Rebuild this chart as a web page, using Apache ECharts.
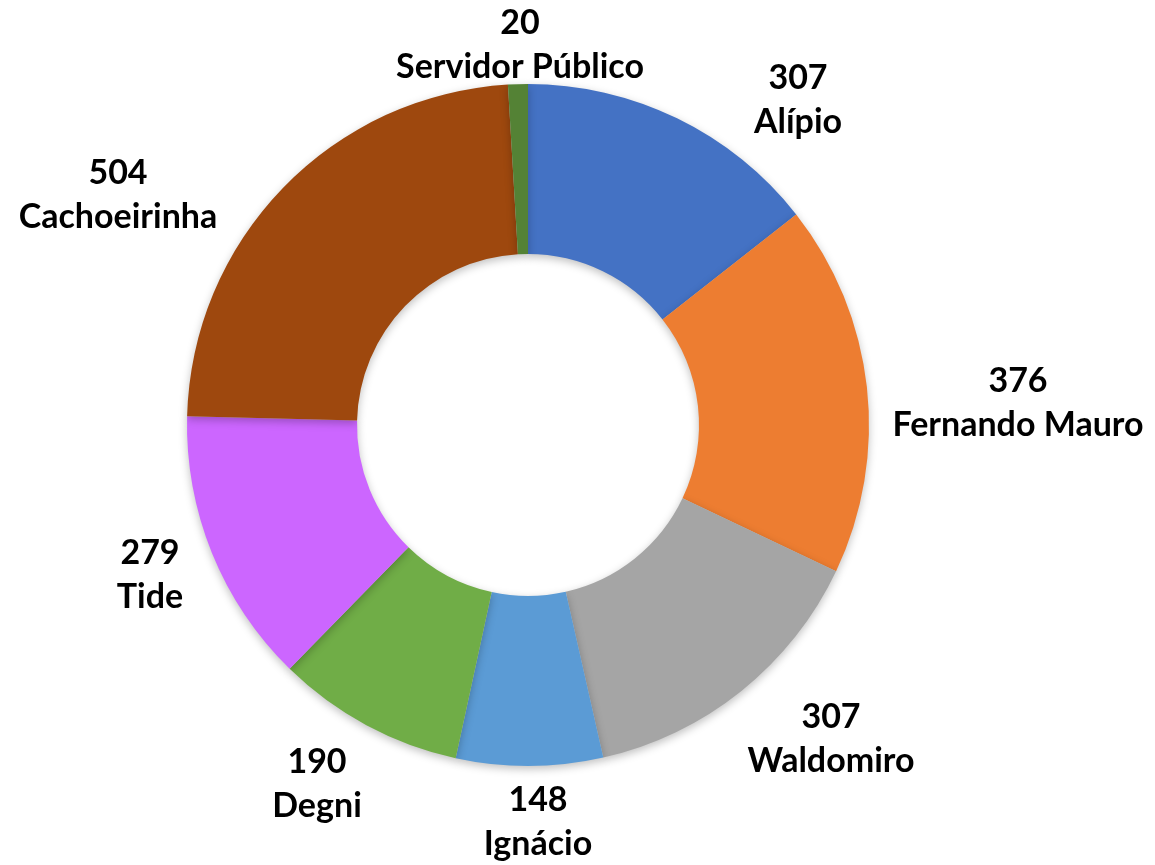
<!DOCTYPE html>
<html lang="pt-br">
<head>
    <meta charset="UTF-8">
    <title>Donut</title>
    <script src="https://cdn.jsdelivr.net/npm/echarts/dist/echarts.min.js"></script>
    <style>
        html, body {margin: 0; padding: 0; background: #fff;}
    </style>
</head>
<body>
<div id="main" style="width: 1155px;height:865px;"></div>
<script>
    // dados (sentido horário a partir do topo)
    var names = ['Alípio', 'Fernando Mauro', 'Waldomiro', 'Ignácio', 'Degni', 'Tide', 'Cachoeirinha', 'Servidor Público'];
    var values = [307, 376, 307, 148, 190, 279, 504, 20];
    var colors = ['#4472C4', '#ED7D31', '#A5A5A5', '#5B9BD5', '#70AD47', '#CC66FF', '#9E480E', '#548235'];

    // onde o Excel colocou cada rótulo (centro do bloco de texto)
    var labelSpots = [
        [798, 100], [1018, 403], [831, 739], [538, 822],
        [317, 784], [150, 575], [118, 195], [520, 45]
    ];

    var myChart = echarts.init(document.getElementById('main'));

    var option = {
        backgroundColor: '#fff',
        animation: false,
        series: [{
            type: 'pie',
            center: [528, 425],
            radius: [171, 341],
            startAngle: 90,
            clockwise: true,
            avoidLabelOverlap: false,
            data: names.map(function (n, i) {
                return {name: n, value: values[i], itemStyle: {color: colors[i]}};
            }),
            itemStyle: {
                shadowBlur: 8,
                shadowColor: 'rgba(0,0,0,0.25)',
                shadowOffsetY: 3
            },
            label: {
                show: true,
                position: 'outside',
                formatter: '{c}\n{b}',
                color: '#000',
                fontFamily: 'Lato',
                fontWeight: 'bold',
                fontSize: 34,
                lineHeight: 44,
                align: 'center'
            },
            labelLine: {show: false},
            labelLayout: function (params) {
                var p = labelSpots[params.dataIndex];
                return {x: p[0], y: p[1], align: 'center', verticalAlign: 'middle'};
            },
            emphasis: {disabled: true}
        }]
    };

    myChart.setOption(option);
</script>
</body>
</html>
